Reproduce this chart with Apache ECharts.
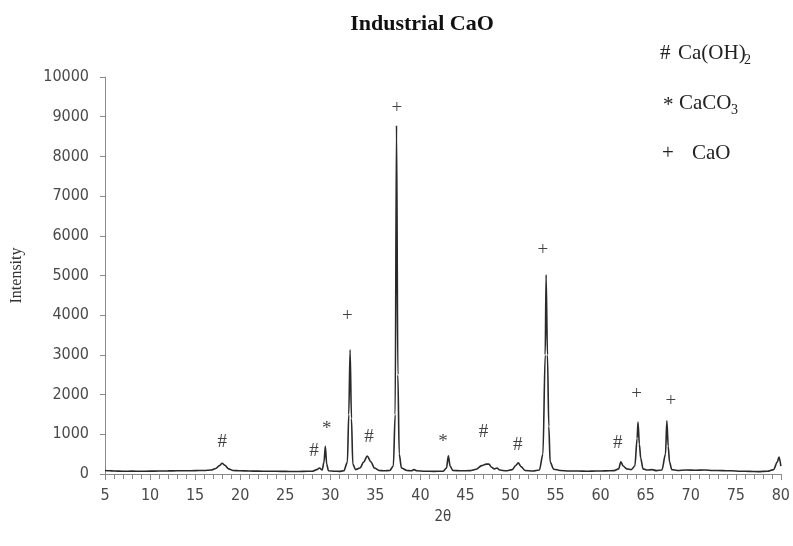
<!DOCTYPE html>
<html>
<head>
<meta charset="utf-8">
<script src="https://cdn.jsdelivr.net/npm/echarts@6/dist/echarts.min.js"></script>
<style>html,body{margin:0;padding:0;background:#fff}#c{width:793px;height:546px}</style>
</head>
<body>
<div id="c"></div>
<script>
// XRD pattern of industrial CaO: [2θ, intensity]
var pattern = [
 [5,90],[5.5,80],[6,75],[7,70],[8,72],[9,68],[10,72],[11,75],[12,78],[13,80],[14,82],[15,85],[16,90],
 [16.8,100],[17.3,140],[17.7,210],[18.0,270],[18.3,220],[18.7,130],[19.2,90],[20,80],[21,75],[22,72],
 [23,70],[24,68],[25,65],[26,62],[27,65],[28,70],[28.5,110],[28.8,150],[29.1,100],[29.3,300],[29.45,700],
 [29.6,250],[29.8,80],[30.5,70],[31,65],[31.5,80],[31.9,300],[32.05,1500],[32.2,3130],[32.35,1400],
 [32.5,250],[32.8,110],[33.3,150],[33.7,300],[34.1,450],[34.5,310],[34.9,150],[35.4,90],[36,80],
 [36.6,90],[37.0,200],[37.2,1500],[37.35,8780],[37.5,2500],[37.65,500],[37.9,150],[38.5,90],[39,80],
 [39.3,110],[39.6,80],[40.5,70],[41.5,65],[42.5,70],[42.9,150],[43.1,460],[43.3,200],[43.6,90],
 [44.5,80],[45.5,85],[46.2,120],[46.8,210],[47.3,250],[47.6,250],[47.9,170],[48.2,130],[48.5,150],
 [48.8,100],[49.5,80],[50.2,110],[50.6,220],[50.85,280],[51.2,180],[51.6,90],[52.5,75],[53.2,100],
 [53.6,500],[53.85,3000],[53.95,5020],[54.1,3000],[54.25,1200],[54.4,300],[54.8,120],[55.5,90],
 [56.5,75],[57.5,75],[58.5,70],[59.5,75],[60.5,78],[61.5,85],[62.0,130],[62.25,310],[62.5,200],
 [62.9,130],[63.4,110],[63.8,200],[64.05,900],[64.15,1310],[64.3,750],[64.45,400],[64.7,130],
 [65.2,100],[65.7,110],[66.2,85],[66.8,100],[67.2,500],[67.35,1340],[67.5,700],[67.65,300],
 [67.9,110],[68.5,90],[69.5,100],[70.5,95],[71.5,100],[72.5,90],[73.5,85],[74.5,80],[75.5,70],
 [76.5,65],[77.5,60],[78.5,70],[79.2,110],[79.6,300],[79.8,430],[80,200]
];
// Phase markers above peaks
var markerSym = ['#','#','*','+','#','+','*','#','#','+','#','+','+'];
var markerX   = [18.0,28.2,29.6,31.9,34.3,37.4,42.5,47.0,50.8,53.6,61.9,64.0,67.8];
var markerY   = [810,580,1130,3970,930,9220,810,1055,730,5650,790,2010,1840];

var yTicks = [0,1000,2000,3000,4000,5000,6000,7000,8000,9000,10000];
var xTicks = [5,10,15,20,25,30,35,40,45,50,55,60,65,70,75,80];

var markers = markerSym.map(function(s,i){ return {name:s, value:[markerX[i], markerY[i]]}; });

var chart = echarts.init(document.getElementById('c'), null, {renderer:'canvas'});
var labelFont = "'DejaVu Sans Condensed','DejaVu Sans',sans-serif";
var serif = "'Liberation Serif','Times New Roman',serif";
var lf = "21px 'Liberation Serif',serif";
var sf = "14px 'Liberation Serif',serif";
chart.setOption({
  animation:false,
  backgroundColor:'#fff',
  grid:{left:105, right:10, top:77, bottom:72, containLabel:false},
  xAxis:{
    type:'value', min:xTicks[0], max:xTicks[xTicks.length-1], interval:5,
    name:'2θ', nameLocation:'middle', nameGap:36,
    nameTextStyle:{fontFamily:labelFont, fontSize:15, color:'#444'},
    axisLine:{show:true, lineStyle:{color:'#8a8a8a', width:1}},
    axisTick:{show:true, length:6, lineStyle:{color:'#8a8a8a'}},
    minorTick:{show:true, splitNumber:5, length:5, lineStyle:{color:'#8a8a8a'}},
    splitLine:{show:false},
    axisLabel:{margin:14, fontFamily:labelFont, fontSize:16, color:'#4a4a4a'}
  },
  yAxis:{
    type:'value', min:yTicks[0], max:yTicks[yTicks.length-1], interval:1000,
    name:'Intensity', nameLocation:'middle', nameGap:80, nameRotate:90,
    nameTextStyle:{fontFamily:serif, fontSize:16, color:'#333'},
    axisLine:{show:true, lineStyle:{color:'#8a8a8a', width:1}},
    axisTick:{show:true, length:5, lineStyle:{color:'#8a8a8a'}},
    splitLine:{show:false},
    axisLabel:{margin:16, fontFamily:labelFont, fontSize:16, color:'#4a4a4a',
               formatter:function(v){return String(v);}}
  },
  title:{
    text:'Industrial CaO', left:417, top:8, textAlign:'center',
    textStyle:{fontFamily:serif, fontWeight:'bold', fontSize:22, color:'#111'}
  },
  graphic:[
    {type:'text', left:660, top:43, style:{text:'#', font:lf, fill:'#222'}},
    {type:'text', left:678, top:43, style:{text:'Ca(OH)', font:lf, fill:'#222'}},
    {type:'text', left:744, top:53, style:{text:'2', font:sf, fill:'#222'}},
    {type:'text', left:663, top:95, style:{text:'*', font:lf, fill:'#222'}},
    {type:'text', left:679, top:93, style:{text:'CaCO', font:lf, fill:'#222'}},
    {type:'text', left:731, top:103, style:{text:'3', font:sf, fill:'#222'}},
    {type:'text', left:662, top:143, style:{text:'+', font:lf, fill:'#222'}},
    {type:'text', left:692, top:143, style:{text:'CaO', font:lf, fill:'#222'}}
  ],
  series:[
    {type:'line', data:pattern, symbol:'none', smooth:0.3, smoothMonotone:'x',
     lineStyle:{color:'#2a2a2a', width:1.6}, z:3},
    {type:'scatter', data:markers, symbolSize:1, itemStyle:{color:'rgba(0,0,0,0)'}, z:4,
     label:{show:true, position:'inside', formatter:function(p){return p.name;},
            fontFamily:serif, fontSize:19, color:'#111'}}
  ]
});
</script>
</body>
</html>
